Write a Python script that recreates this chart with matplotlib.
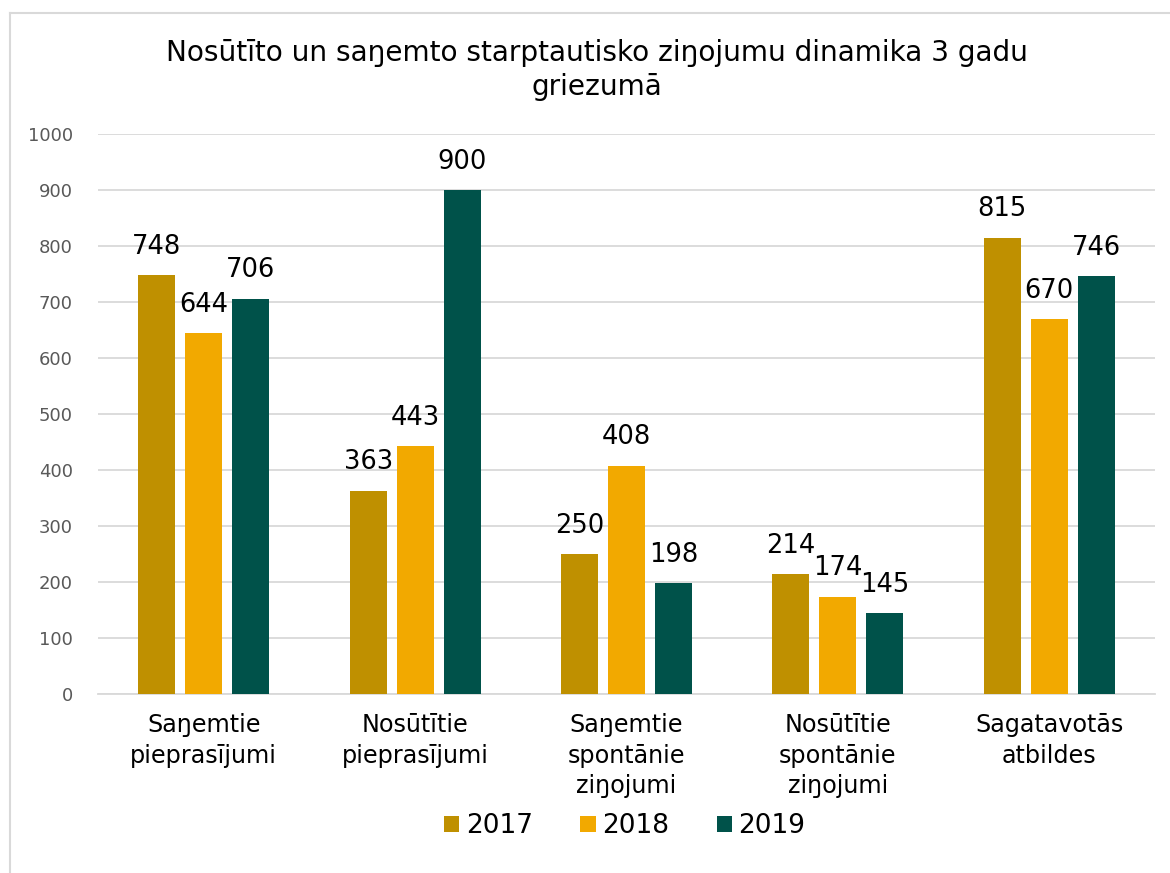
import numpy as np
import matplotlib as mpl
from matplotlib import pyplot as plt
from matplotlib.lines import Line2D

categories = ['Saŋemtie\npieprasījumi', 'Nosūtītie\npieprasījumi',
              'Saŋemtie\nspontānie\nziŋojumi', 'Nosūtītie\nspontānie\nziŋojumi',
              'Sagatavotās\natbildes']
years = ['2017', '2018', '2019']
values_2017 = [748, 363, 250, 214, 815]
values_2018 = [644, 443, 408, 174, 670]
values_2019 = [706, 900, 198, 145, 746]
yticks = [0, 100, 200, 300, 400, 500, 600, 700, 800, 900, 1000]

colors = ['#BF9000', '#F2A900', '#00524A']
title = 'Nosūtīto un saŋemto starptautisko ziŋojumu dinamika 3 gadu\ngriezumā'

plt.rcParams['font.family'] = ['DejaVu Sans']

fig = plt.figure(figsize=(11.7, 8.73), dpi=100)
ax = fig.add_axes([98 / 1170, 1 - 694 / 873, (1155 - 98) / 1170, (694 - 134) / 873])

x = np.arange(len(categories))
width = 0.175
step = 0.222
series = [values_2017, values_2018, values_2019]
for i, (vals, col, yr) in enumerate(zip(series, colors, years)):
    bars = ax.bar(x + (i - 1) * step, vals, width, color=col, label=yr, zorder=3)
    ax.bar_label(bars, padding=11, fontsize=18.5, color='black')

ax.set_xlim(-0.5, len(categories) - 0.5)
ax.set_ylim(0, 1000)
ax.set_yticks(yticks)
ax.set_xticks(x)
ax.set_xticklabels(categories, fontsize=17.2, linespacing=1.32)
ax.tick_params(axis='y', labelsize=13, labelcolor='#595959', length=0, pad=18)
ax.tick_params(axis='x', length=0, pad=14)
ax.grid(axis='y', color='#D9D9D9', linewidth=1.3, zorder=0)
for s in ['top', 'right', 'left']:
    ax.spines[s].set_visible(False)
ax.spines['bottom'].set_color('#D9D9D9')
ax.spines['bottom'].set_linewidth(1.3)

fig.text(0.51, 1 - 70 / 873, title, ha='center', va='center', fontsize=20.2,
         linespacing=1.3)

ax.legend(loc='center', bbox_to_anchor=(0.534, 1 - 826 / 873), bbox_transform=fig.transFigure,
          ncol=3, frameon=False, fontsize=19, handlelength=0.57, handleheight=0.57,
          handletextpad=0.25, columnspacing=1.8)

# chart frame
fig.add_artist(Line2D([10 / 1170, 10 / 1170], [0, 1 - 13 / 873], color='#D9D9D9', lw=1.5,
                      transform=fig.transFigure))
fig.add_artist(Line2D([10 / 1170, 1], [1 - 13 / 873, 1 - 13 / 873], color='#D9D9D9', lw=1.5,
                      transform=fig.transFigure))

fig.savefig('out.png', dpi=100, facecolor='white')
